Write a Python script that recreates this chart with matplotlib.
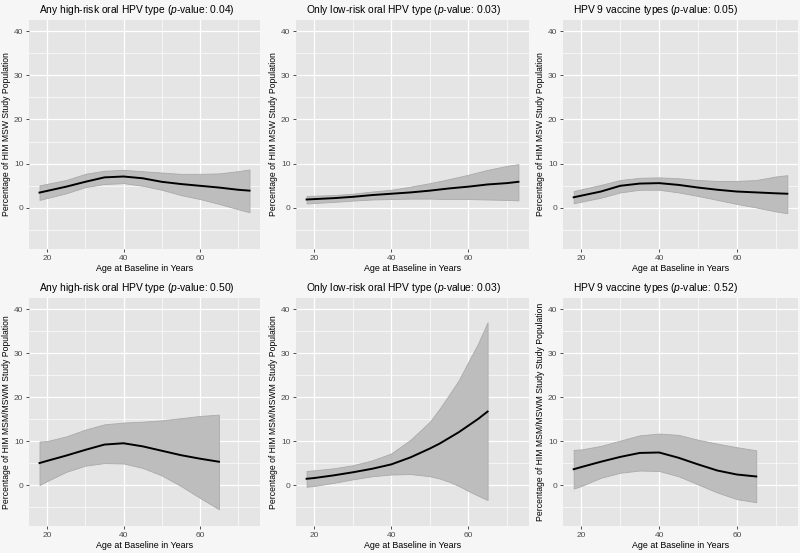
import numpy as np
import matplotlib
matplotlib.use('Agg')
import matplotlib.pyplot as plt

plt.rcParams['font.family'] = ['Liberation Sans', 'DejaVu Sans']
plt.rcParams['mathtext.fontset'] = 'custom'
plt.rcParams['mathtext.it'] = 'Liberation Sans:italic'
plt.rcParams['mathtext.rm'] = 'Liberation Sans'

# Age grids (top row: MSW, bottom row: MSM/MSWM)
age_top = [18, 25, 30, 35, 40, 45, 50, 55, 60, 65, 70, 73]
age_bot = [18, 20, 25, 30, 35, 40, 45, 50, 55, 60, 65]
age_msm_lr = [18, 20, 25, 30, 35, 40, 45, 50, 52.5, 55, 57.5, 60, 62.5, 65]

# MSW - any high-risk
msw_hr_fit = [3.46, 4.8, 5.9, 6.9, 7.1, 6.7, 5.9, 5.4, 5.0, 4.6, 4.1, 3.9]
msw_hr_up = [5.1, 6.3, 7.7, 8.4, 8.6, 8.3, 8.0, 7.7, 7.7, 7.8, 8.3, 8.7]
msw_hr_lo = [1.8, 3.3, 4.7, 5.4, 5.6, 5.0, 4.1, 2.9, 2.0, 0.9, -0.3, -1.0]

# MSW - only low-risk
msw_lr_fit = [1.9, 2.2, 2.5, 2.9, 3.2, 3.5, 3.9, 4.4, 4.8, 5.3, 5.6, 5.9]
msw_lr_up = [2.7, 2.9, 3.2, 3.7, 4.1, 4.8, 5.6, 6.5, 7.5, 8.6, 9.5, 9.9]
msw_lr_lo = [1.0, 1.35, 1.65, 1.9, 2.0, 2.1, 2.1, 2.0, 2.0, 1.9, 1.8, 1.7]

# MSW - 9-valent vaccine types
msw_v9_fit = [2.4, 3.7, 5.0, 5.5, 5.6, 5.2, 4.6, 4.1, 3.7, 3.5, 3.3, 3.2]
msw_v9_up = [3.8, 5.2, 6.3, 6.8, 6.9, 6.7, 6.3, 6.1, 6.1, 6.3, 7.1, 7.4]
msw_v9_lo = [1.05, 2.3, 3.5, 4.1, 4.1, 3.5, 2.7, 1.8, 0.9, 0.1, -0.8, -1.2]

# MSM/MSWM - any high-risk
msm_hr_fit = [5.0, 5.5, 6.7, 8.0, 9.2, 9.5, 8.8, 7.8, 6.8, 6.0, 5.3]
msm_hr_up = [9.9, 10.0, 11.05, 12.6, 13.8, 14.2, 14.4, 14.7, 15.2, 15.7, 16.0]
msm_hr_lo = [0.0, 0.9, 3.0, 4.4, 5.0, 4.9, 3.9, 2.2, -0.2, -2.9, -5.5]

# MSM/MSWM - only low-risk
msm_lr_fit = [1.43, 1.6, 2.2, 2.9, 3.7, 4.7, 6.3, 8.3, 9.4, 10.7, 12.0, 13.5, 15.0, 16.7]
msm_lr_up = [3.2, 3.35, 3.8, 4.5, 5.6, 7.2, 10.3, 14.4, 17.3, 20.5, 23.8, 28.0, 32.1, 37.0]
msm_lr_lo = [-0.4, -0.2, 0.5, 1.3, 2.0, 2.4, 2.5, 2.0, 1.5, 0.75, -0.2, -1.35, -2.4, -3.4]

# MSM/MSWM - 9-valent vaccine types
msm_v9_fit = [3.6, 4.1, 5.3, 6.4, 7.3, 7.4, 6.2, 4.7, 3.3, 2.4, 1.95]
msm_v9_up = [8.0, 8.1, 8.9, 10.1, 11.3, 11.7, 11.4, 10.3, 9.4, 8.6, 7.9]
msm_v9_lo = [-0.8, -0.2, 1.65, 2.8, 3.3, 3.2, 2.0, 0.15, -1.7, -3.2, -3.9]

titles = [
    ('Any high-risk oral HPV type', '0.04'),
    ('Only low-risk oral HPV type', '0.03'),
    ('HPV 9 vaccine types', '0.05'),
    ('Any high-risk oral HPV type', '0.50'),
    ('Only low-risk oral HPV type', '0.03'),
    ('HPV 9 vaccine types', '0.52'),
]
ylabels = [
    'Percentage of HIM MSW Study Population',
    'Percentage of HIM MSW Study Population',
    'Percentage of HIM MSW Study Population',
    'Percentage of HIM MSM/MSWM Study Population',
    'Percentage of HIM MSM/MSWM Study Population',
    'Percentage of HIM MSM/MSWM Study Study Population',
]
panels = [
    (age_top, msw_hr_fit, msw_hr_up, msw_hr_lo),
    (age_top, msw_lr_fit, msw_lr_up, msw_lr_lo),
    (age_top, msw_v9_fit, msw_v9_up, msw_v9_lo),
    (age_bot, msm_hr_fit, msm_hr_up, msm_hr_lo),
    (age_msm_lr, msm_lr_fit, msm_lr_up, msm_lr_lo),
    (age_bot, msm_v9_fit, msm_v9_up, msm_v9_lo),
]

W, H = 800, 553
# panel boxes in pixels: left, top, right, bottom
boxes = [
    (29, 20, 260, 249), (296, 20, 529, 249), (563, 20, 798, 249),
    (29, 298, 260, 526), (296, 298, 529, 526), (563, 298, 798, 526),
]

fig = plt.figure(figsize=(8, 5.53), dpi=100, facecolor='#f6f6f6')

for i in range(6):
    l, t, r, b = boxes[i]
    ax = fig.add_axes([l / W, 1 - b / H, (r - l) / W, (b - t) / H])
    ax.set_facecolor('#e5e5e5')
    x, fit, up, lo = panels[i]
    ax.fill_between(x, lo, up, facecolor='#bdbdbd', edgecolor='#aaaaaa', lw=0.6, zorder=2)
    ax.plot(x, fit, color='black', lw=1.4, zorder=3, solid_joinstyle='round')

    ax.set_xlim(15.25, 75.75)
    ax.set_ylim(-9.3, 42.5)
    ax.set_xticks([20, 40, 60])
    ax.set_yticks([0, 10, 20, 30, 40])
    ax.set_xticks([30, 50, 70], minor=True)
    ax.set_yticks([-5, 5, 15, 25, 35], minor=True)
    ax.grid(which='major', color='white', lw=0.9)
    ax.grid(which='minor', color='white', lw=0.45)
    ax.set_axisbelow(True)
    for s in ax.spines.values():
        s.set_visible(False)
    ax.tick_params(which='major', length=2.5, width=0.6, color='#333333',
                   labelsize=6, labelcolor='#4d4d4d', pad=1.5)
    ax.tick_params(which='minor', length=0)

    ax.set_xlabel('Age at Baseline in Years', fontsize=6.4, labelpad=2)
    ax.set_ylabel(ylabels[i], fontsize=6.2, labelpad=2)
    name, p = titles[i]
    ax.text(10 / (r - l), 1 + 10 / (b - t), name + r' ($\it{p}$-value: ' + p + ')',
            transform=ax.transAxes, fontsize=7.4, ha='left', va='center')

fig.savefig('out.png', dpi=100, facecolor=fig.get_facecolor())
